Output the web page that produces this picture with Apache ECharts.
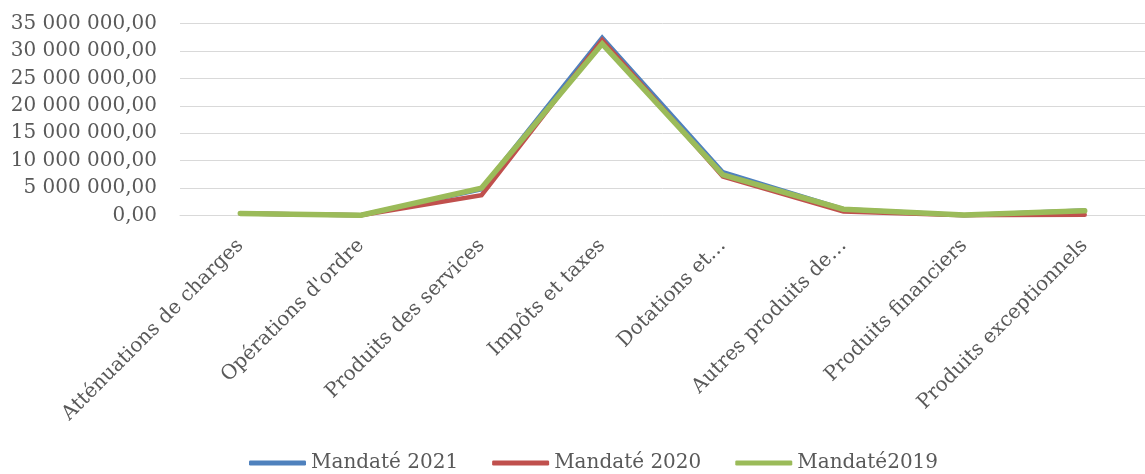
<!DOCTYPE html>
<html>
<head>
<meta charset="utf-8">
<script src="https://cdn.jsdelivr.net/npm/echarts@6/dist/echarts.min.js"></script>
<style>
html,body{margin:0;padding:0;background:#fff;}
#main{width:1145px;height:474px;}
</style>
</head>
<body>
<div id="main"></div>
<script>
const categories = ['Atténuations de charges', "Opérations d'ordre", 'Produits des services', 'Impôts et taxes', 'Dotations et…', 'Autres produits de…', 'Produits financiers', 'Produits exceptionnels'];
const seriesNames = ['Mandaté 2021', 'Mandaté 2020', 'Mandaté2019'];
const mandate2021 = [350000, 50000, 4800000, 32400000, 7900000, 1150000, 60000, 900000];
const mandate2020 = [350000, 30000, 3700000, 32000000, 7100000, 750000, 30000, 150000];
const mandate2019 = [380000, 50000, 5000000, 31300000, 7400000, 1150000, 80000, 850000];
const yTicks = {min: 0, max: 35000000, interval: 5000000};

const FONT = 'DejaVu Serif';
const TXT = '#595959';
function fmt(v){
  return Math.round(v).toString().replace(/\B(?=(\d{3})+(?!\d))/g, ' ') + ',00';
}
const colors = ['#4f81bd', '#c0504d', '#9bbb59'];
const widths = [4.5, 4.5, 5.5];
const dataSets = [mandate2021, mandate2020, mandate2019];

const chart = echarts.init(document.getElementById('main'), null, {renderer: 'canvas'});
chart.setOption({
  animation: false,
  backgroundColor: '#ffffff',
  color: colors,
  grid: {left: 180, top: 23.5, width: 978, height: 192},
  legend: {
    left: 244, top: 448,
    icon: 'roundRect', itemWidth: 57, itemHeight: 5, itemGap: 34,
    textStyle: {fontFamily: FONT, fontSize: 20, color: TXT},
    data: seriesNames
  },
  xAxis: {
    type: 'category', data: categories, boundaryGap: true,
    axisLine: {show: true, lineStyle: {color: '#d9d9d9', width: 1}},
    axisTick: {show: false},
    axisLabel: {rotate: 45, interval: 0, margin: 27, fontFamily: FONT, fontSize: 20, color: TXT}
  },
  yAxis: {
    type: 'value', min: yTicks.min, max: yTicks.max, interval: yTicks.interval,
    axisLine: {show: false}, axisTick: {show: false},
    splitLine: {lineStyle: {color: '#d9d9d9', width: 1}},
    axisLabel: {margin: 23, fontFamily: FONT, fontSize: 20, color: TXT, formatter: fmt}
  },
  series: dataSets.map((d, i) => ({
    name: seriesNames[i], type: 'line', data: d, symbol: 'none',
    lineStyle: {width: widths[i], color: colors[i], join: 'miter', cap: 'round'},
    itemStyle: {color: colors[i]}
  }))
});
</script>
</body>
</html>
